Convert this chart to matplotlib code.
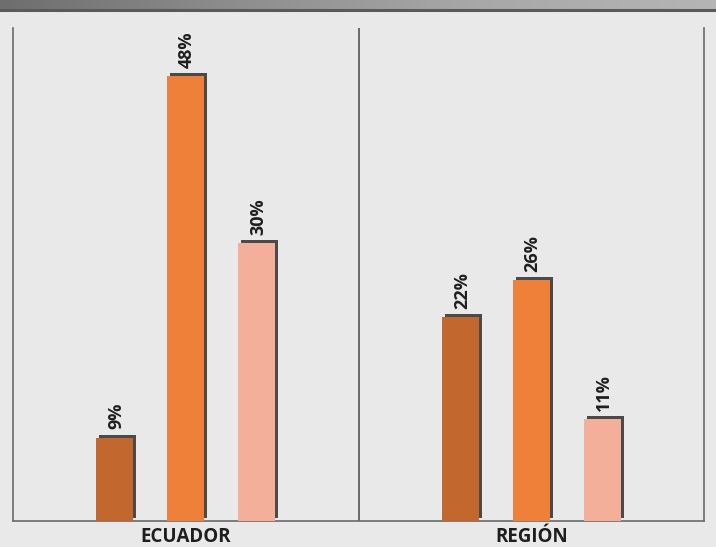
import matplotlib
matplotlib.use("Agg")
import matplotlib.pyplot as plt
import matplotlib.patheffects as pe
import numpy as np

categories = ["ECUADOR", "REGIÓN"]
series_a = [9, 22]
series_b = [48, 26]
series_c = [30, 11]
colors = ["#c2672e", "#ee803a", "#f4af9b"]

W, H = 716, 547
fig = plt.figure(figsize=(W / 100, H / 100), dpi=100)
fig.patch.set_facecolor("#e9e9e9")

# top band
band = fig.add_axes([0, 1 - 10 / H, 1, 10 / H])
grad = np.linspace(0, 1, 256).reshape(1, -1)
band.imshow(grad, aspect="auto", cmap=matplotlib.colors.LinearSegmentedColormap.from_list(
    "g", ["#6e6e6e", "#8e8e8e", "#a8a8a8", "#b5b5b5"]), extent=[0, 1, 0, 1])
band.axis("off")
fig.add_artist(plt.Line2D([0, 1], [1 - 9.5 / H, 1 - 9.5 / H], color="#5a5a5a", lw=2.2,
                          transform=fig.transFigure))

ax = fig.add_axes([13 / W, 26 / H, (704 - 13) / W, (521 - 28) / H])
ax.set_facecolor("none")
x = np.arange(len(categories))
width = 0.107
offset = 0.205
shadow = [pe.SimplePatchShadow(offset=(2.2, 2.2), shadow_rgbFace="#4a4a4a", alpha=1), pe.Normal()]
for i, (vals, c) in enumerate(zip([series_a, series_b, series_c], colors)):
    bars = ax.bar(x + (i - 1) * offset, vals, width, color=c, zorder=3)
    for b, v in zip(bars, vals):
        b.set_path_effects(shadow)
        ax.text(b.get_x() + b.get_width() / 2 + 0.004, v + 0.9, f"{v}%", rotation=90,
                ha="center", va="bottom", fontsize=13, fontweight="bold",
                family="Open Sans", color="#1e1e1e", zorder=4)

ax.set_xlim(-0.5, 1.5)
ax.set_ylim(0, 53.2)
ax.axvline(0.5, color="#555555", lw=1.2, zorder=2)
for s in ["left", "right", "bottom"]:
    ax.spines[s].set_color("#6a6a6a")
    ax.spines[s].set_linewidth(1.2)
ax.spines["top"].set_visible(False)
ax.set_yticks([])
ax.set_xticks(x)
ax.set_xticklabels(categories, fontsize=13.5, fontweight="bold", family="Open Sans", color="#1e1e1e")
ax.tick_params(axis="x", length=0, pad=4)

fig.savefig("out.png", dpi=100, facecolor=fig.get_facecolor())
